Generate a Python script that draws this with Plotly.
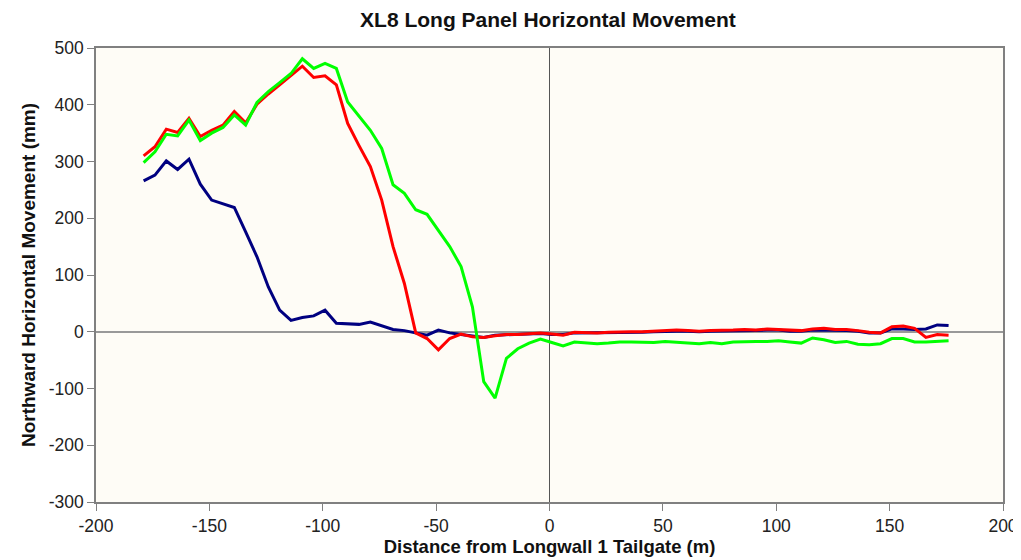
import plotly.graph_objects as go

# distance from Longwall 1 tailgate (m)
distance = [-179, -174, -169, -164, -159, -154, -149, -144, -139, -134,
            -129, -124, -119, -114, -109, -104, -99, -94, -89, -84,
            -79, -74, -69, -64, -59, -54, -49, -44, -39, -34,
            -29, -24, -19, -14, -9, -4, 1, 6, 11, 16,
            21, 26, 31, 36, 41, 46, 51, 56, 61, 66,
            71, 76, 81, 86, 91, 96, 101, 106, 111, 116,
            121, 126, 131, 136, 141, 146, 151, 156, 161, 166,
            171, 176]

# northward horizontal movement (mm), one list per survey
blue_vals = [266, 276, 301, 286, 304, 260, 232, 226, 219, 176,
             132, 79, 38, 20, 25, 28, 38, 15, 14, 13,
             17, 10, 4, 2, -2, -6, 3, -2, -5, -8,
             -10, -6, -5, -4, -3, -3, -5, -5, -2, -2,
             -2, -1, -1, -1, -1, 0, 1, 1, 1, 0,
             1, 1, 2, 2, 2, 3, 3, 1, 1, 3,
             3, 2, 2, 1, -2, -2, 5, 5, 4, 5,
             12, 11]

red_vals = [310, 326, 357, 351, 376, 344, 355, 364, 388, 368,
            401, 419, 435, 452, 468, 448, 451, 435, 367, 328,
            291, 232, 150, 85, -2, -12, -32, -12, -4, -9,
            -10, -7, -5, -5, -3, -2, -4, -6, -1, -2,
            -2, -1, 0, 0, 0, 1, 3, 3, 2, 1,
            2, 2, 3, 4, 3, 5, 4, 2, 2, 5,
            6, 4, 4, 2, -1, -2, 9, 10, 6, -10,
            -5, -6]

green_vals = [298, 317, 348, 345, 373, 337, 350, 360, 382, 364,
              404, 423, 439, 455, 481, 464, 473, 464, 405, 379,
              355, 323, 259, 244, 215, 207, 179, 150, 115, 44,
              -88, -117, -47, -30, -20, -13, -19, -25, -18, -20,
              -21, -20, -18, -18, -19, -19, -17, -18, -19, -21,
              -19, -21, -18, -17, -17, -17, -16, -18, -20, -11,
              -14, -19, -17, -22, -23, -21, -12, -12, -18, -18,
              -17, -16]

# axis ticks (plain hyphen as in the original)
x_ticks = [-200, -150, -100, -50, 0, 50, 100, 150, 200]
x_tick_labels = ["-200", "-150", "-100", "-50", "0", "50", "100", "150", "200"]
y_ticks = [-300, -200, -100, 0, 100, 200, 300, 400, 500]
y_tick_labels = ["-300", "-200", "-100", "0", "100", "200", "300", "400", "500"]

series = [
    ("Survey 1", blue_vals, "#000080"),
    ("Survey 2", red_vals, "#FF0000"),
    ("Survey 3", green_vals, "#00FF00"),
]

FONT = "Liberation Sans, Arial, sans-serif"

fig = go.Figure()
for name, vals, color in series:
    fig.add_trace(go.Scatter(x=distance, y=vals, mode="lines", name=name,
                             line=dict(color=color, width=3)))

tick_font = dict(family=FONT, size=17.5, color="#222222")

# page body adds 8px, so the figure is sized to fit the window
fig.update_layout(
    width=1013, height=552,
    margin=dict(l=88, r=18, t=40, b=58),
    paper_bgcolor="white",
    plot_bgcolor="#FEFCF6",
    showlegend=False,
    title=dict(text="<b>XL8 Long Panel Horizontal Movement</b>",
               x=0.533, xanchor="center", y=0.978, yanchor="middle",
               font=dict(family=FONT, size=21, color="#111111")),
    font=dict(family=FONT, color="#222222"),
)

fig.update_xaxes(
    range=[-200, 200], tickvals=x_ticks, ticktext=x_tick_labels,
    showgrid=False, zeroline=True, zerolinecolor="#555555", zerolinewidth=1,
    showline=True, linecolor="#808080", linewidth=1.5, mirror=True,
    ticks="outside", ticklen=7, tickcolor="#808080",
    tickfont=tick_font, automargin=False,
    title=dict(text="<b>Distance from Longwall 1 Tailgate (m)</b>", standoff=2,
               font=dict(family=FONT, size=18.5, color="#111111")),
)

fig.update_yaxes(
    range=[-300, 500], tickvals=y_ticks, ticktext=y_tick_labels,
    showgrid=False, zeroline=True, zerolinecolor="#999999", zerolinewidth=1.5,
    showline=True, linecolor="#808080", linewidth=1.5, mirror=True,
    ticks="outside", ticklen=7, tickcolor="#808080",
    tickfont=tick_font, automargin=False,
    title=dict(text="<b>Northward Horizontal Movement (mm)</b>", standoff=8,
               font=dict(family=FONT, size=19, color="#111111")),
)

fig.write_html("out.html")
